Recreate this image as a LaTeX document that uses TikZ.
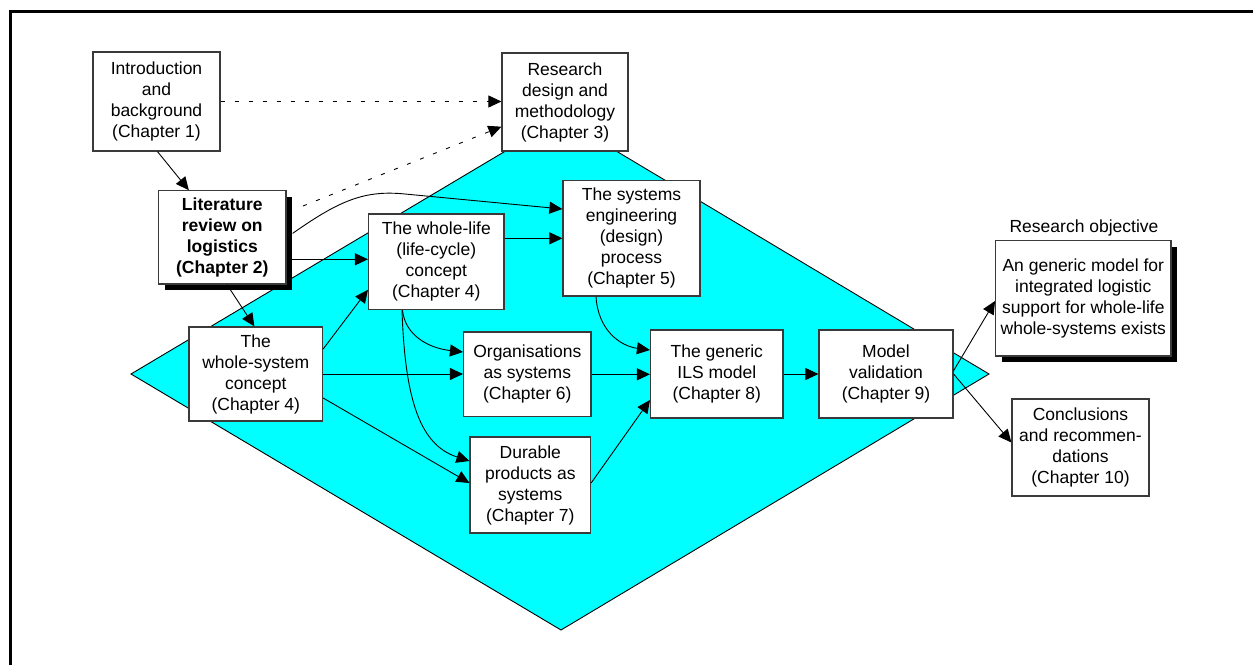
\documentclass[tikz,border=0pt]{standalone}
\usepackage{fontspec}
\setmainfont{Liberation Sans}
\usetikzlibrary{arrows.meta,shadows}
\definecolor{boxgray}{HTML}{3A3A3A}
\definecolor{diacyan}{HTML}{00FFFF}
\begin{document}
\begin{tikzpicture}[x=1pt,y=-1pt,
  every node/.style={font=\fontsize{17.5}{21}\selectfont},
  chbox/.style={draw=boxgray,fill=white,line width=1.2pt,align=center,inner sep=0pt,rectangle},
  shbox/.style={chbox,drop shadow={shadow xshift=6pt,shadow yshift=-6pt,opacity=1,fill=black}},
  arr/.style={line width=0.9pt,-{Triangle[length=13pt,width=12pt]}},
  dsh/.style={arr,dash pattern=on 4pt off 10pt}
]
\useasboundingbox (0,0) rectangle (1253,664);
% frame
\draw[line width=3pt] (10.5,670) -- (10.5,11.3) -- (1260,11.3);
% diamond
\draw[fill=diacyan,line width=0.9pt] (131,374) -- (561,118) -- (989,374) -- (561,630) -- cycle;

% boxes
\node[chbox,minimum width=127pt,minimum height=99pt] (intro) at (156.5,101.5) {Introduction\\and\\background\\(Chapter 1)};
\node[chbox,minimum width=126pt,minimum height=98pt] (research) at (565,102) {Research\\design and\\methodology\\(Chapter 3)};
\node[shbox,minimum width=127.5pt,minimum height=93.3pt,font=\fontsize{17.5}{21}\selectfont\bfseries] (lit) at (222.3,237.4) {Literature\\review on\\logistics\\(Chapter 2)};
\node[chbox,minimum width=135.5pt,minimum height=95.5pt] (wlife) at (436.3,261.8) {The whole-life\\(life-cycle)\\concept\\(Chapter 4)};
\node[chbox,minimum width=137pt,minimum height=115.3pt] (sys) at (631.5,238.3) {The systems\\engineering\\(design)\\process\\(Chapter 5)};
\node[chbox,minimum width=133.5pt,minimum height=94pt] (wsys) at (255.8,374) {The\\whole-system\\concept\\(Chapter 4)};
\node[chbox,minimum width=127.5pt,minimum height=84.7pt] (org) at (527.3,374.3) {Organisations\\as systems\\(Chapter 6)};
\node[chbox,minimum width=120.5pt,minimum height=96pt] (dur) at (530.3,485) {Durable\\products as\\systems\\(Chapter 7)};
\node[chbox,minimum width=132.5pt,minimum height=88pt] (ils) at (716.8,374) {The generic\\ILS model\\(Chapter 8)};
\node[chbox,minimum width=134pt,minimum height=88pt] (model) at (886,374) {Model\\validation\\(Chapter 9)};
\node[shbox,minimum width=175.3pt,minimum height=115.3pt] (ro) at (1083.3,298.3) {An generic model for\\integrated logistic\\support for whole-life\\whole-systems exists};
\node (rolabel) at (1084,228) {Research objective};
\node[chbox,minimum width=137pt,minimum height=97pt] (concl) at (1080.5,447.5) {Conclusions\\and recommen-\\dations\\(Chapter 10)};

\coordinate (litd) at (303,206);

% connectors
\draw[arr] ([xshift=1pt]intro.south) -- ([xshift=-33.5pt]lit.north);
\draw[dsh] (intro.east) -- (intro.east -| research.west);
\draw[dsh] (litd) -- ([yshift=-24.7pt]research.west);
\draw[arr] ([xshift=6pt,yshift=4pt]lit.east) .. controls (340,200) and (365,190) .. (405,194) -- ([yshift=29.3pt]sys.west);
\draw[arr] ([yshift=-21.9pt]lit.east) -- ([yshift=-21.9pt]lit.east -| wlife.west);
\draw[arr] ([xshift=4.7pt]lit.south) -- ([xshift=-1.4pt]wsys.north);
\draw[arr] ([yshift=25pt]wsys.east) -- ([yshift=-28pt]wlife.west);
\draw[arr] ([yshift=23.5pt]wlife.east) -- ([yshift=23.5pt]wlife.east -| sys.west);
\draw[arr] ([xshift=-33.8pt]wlife.south) .. controls (405,335) and (428,348) .. ([yshift=22.3pt]org.west);
\draw[arr] ([xshift=-34.3pt]wlife.south) .. controls (405,400) and (420,445) .. ([yshift=24pt]dur.west);
\draw[arr] (wsys.east) -- (wsys.east -| org.west);
\draw[arr] ([yshift=-24pt]wsys.east) -- ([yshift=2pt]dur.west);
\draw[arr] ([xshift=-35.5pt]sys.south) .. controls (598,330) and (620,346) .. ([yshift=24pt]ils.west);
\draw[arr] (org.east) -- (org.east -| ils.west);
\draw[arr] ([yshift=2pt]dur.east) -- ([yshift=-26pt]ils.west);
\draw[arr] (ils.east) -- (model.west);
\draw[arr] ([yshift=3.3pt]model.east) -- ([yshift=-2.7pt]ro.west);
\draw[arr] (model.east) -- ([yshift=5pt]concl.west);
\end{tikzpicture}
\end{document}
